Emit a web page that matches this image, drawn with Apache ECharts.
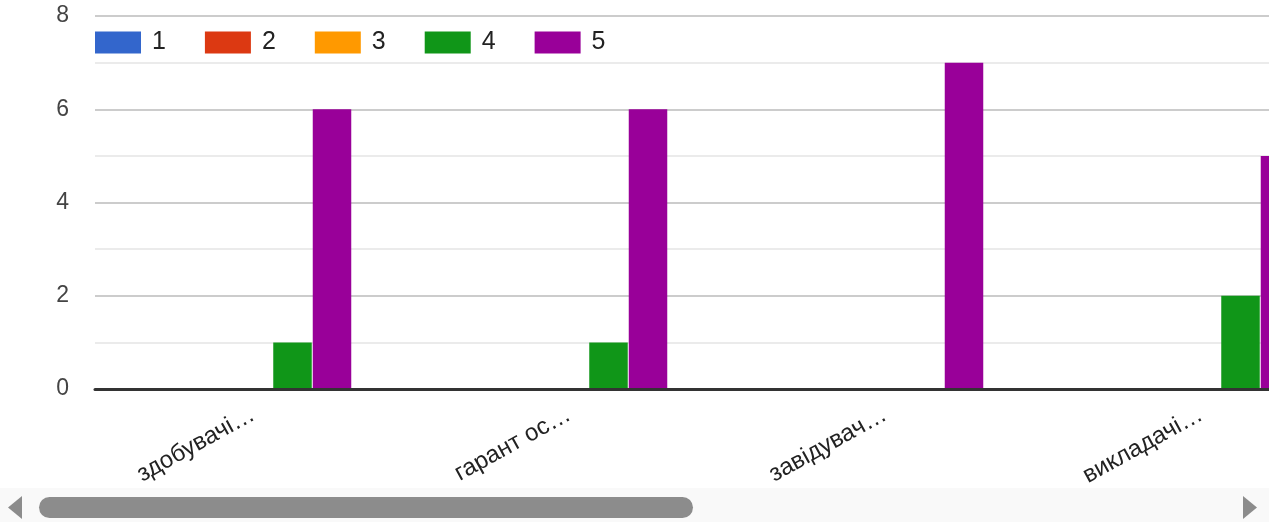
<!DOCTYPE html>
<html>
<head>
<meta charset="utf-8">
<script src="https://cdn.jsdelivr.net/npm/echarts@6/dist/echarts.min.js"></script>
<style>
html,body{margin:0;padding:0;background:#fff;overflow:hidden;width:1269px;height:522px;position:relative;}
#c{width:1359px;height:522px;position:absolute;left:0;top:0;}
</style>
</head>
<body>
<div id="c"></div>
<script>
const categories = ['здобувачі…', 'гарант ос…', 'завідувач…', 'викладачі…'];
const seriesNames = ['1', '2', '3', '4', '5'];
const s1 = [0, 0, 0, 0];
const s2 = [0, 0, 0, 0];
const s3 = [0, 0, 0, 0];
const s4 = [1, 1, 0, 2];
const s5 = [6, 6, 7, 5];
const colors = ['#3366cc', '#dc3912', '#ff9900', '#109618', '#990099'];
const yTicks = [0, 2, 4, 6, 8];

const allData = [s1, s2, s3, s4, s5];
const chart = echarts.init(document.getElementById('c'));
const FONT = '"Liberation Sans", Arial, sans-serif';

chart.setOption({
  animation: false,
  color: colors,
  textStyle: { fontFamily: FONT },
  legend: {
    left: 95, top: 30, padding: 0,
    itemWidth: 46, itemHeight: 22, itemGap: 39,
    icon: 'rect',
    textStyle: { fontSize: 25, color: '#222', fontFamily: FONT, padding: [0, 0, 0, 6] },
    data: seriesNames
  },
  grid: { left: 95, right: 0, top: 16, bottom: 133, containLabel: false },
  xAxis: {
    type: 'category',
    data: categories,
    axisLine: { show: true, lineStyle: { color: '#333', width: 3 } },
    axisTick: { show: false },
    axisLabel: { rotate: 29, fontSize: 24, color: '#222', margin: 24, fontFamily: FONT, interval: 0 },
    z: 5
  },
  yAxis: {
    type: 'value',
    min: yTicks[0], max: yTicks[yTicks.length - 1], interval: 2,
    axisLine: { show: false },
    axisTick: { show: false },
    axisLabel: { fontSize: 23, color: '#444', margin: 26, fontFamily: FONT },
    splitLine: { lineStyle: { color: '#cccccc', width: 2 } },
    minorTick: { show: false, splitNumber: 2 },
    minorSplitLine: { show: true, lineStyle: { color: '#ebebeb', width: 2 } }
  },
  series: seriesNames.map((n, i) => ({
    name: n,
    type: 'bar',
    data: allData[i],
    barWidth: 38.5,
    barGap: '2.6%',
    itemStyle: { color: colors[i] }
  })),
  graphic: [
    { type: 'rect', shape: { x: 0, y: 488, width: 1269, height: 34 }, style: { fill: '#f9f9f9' }, z: 100 },
    { type: 'polygon', shape: { points: [[8, 507.5], [22, 496], [22, 519]] }, style: { fill: '#8c8c8c' }, z: 101 },
    { type: 'rect', shape: { x: 39, y: 497, width: 654, height: 21, r: 10.5 }, style: { fill: '#8c8c8c' }, z: 101 },
    { type: 'polygon', shape: { points: [[1257, 507.5], [1243, 496], [1243, 519]] }, style: { fill: '#8c8c8c' }, z: 101 }
  ]
});
</script>
</body>
</html>
